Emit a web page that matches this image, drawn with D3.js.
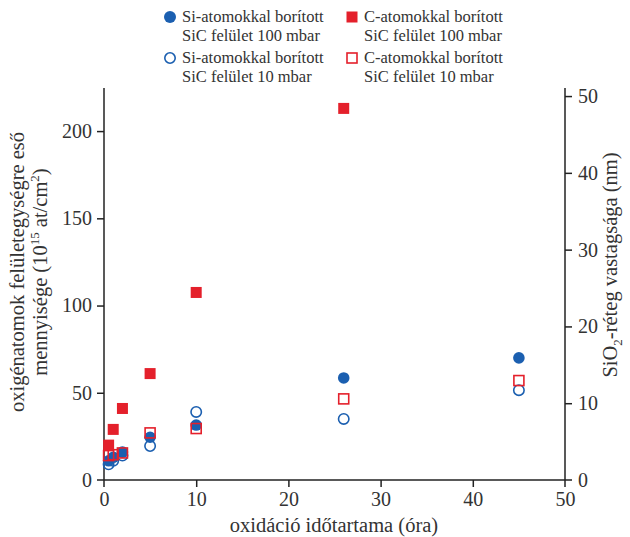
<!DOCTYPE html>
<html><head><meta charset="utf-8">
<script src="https://cdn.jsdelivr.net/npm/d3@7"></script>
<style>body{margin:0;background:#fff}svg{display:block}text{font-family:"Liberation Serif","DejaVu Serif",serif;fill:#333}</style>
</head><body><svg id="c" width="630" height="537"></svg>
<script>
const hours = [0.5, 1, 2, 5, 10, 26, 45];
const siFilled = [11, 13, 16, 24.5, 31.5, 58.5, 70];
const siOpen = [9, 11, 14, 19.5, 39, 35, 51.5];
const cFilled = [20, 29, 41, 61, 107.5, 213, null];
const cOpen = [14, 14.5, 15.5, 27, 29.5, 46.5, 57];
const xTicks = [0, 10, 20, 30, 40, 50];
const yTicks = [0, 50, 100, 150, 200];
const rTicks = [0, 10, 20, 30, 40, 50];
const legendLabels = [
  ["Si-atomokkal borított", "SiC felület 100 mbar"],
  ["C-atomokkal borított", "SiC felület 100 mbar"],
  ["Si-atomokkal borított", "SiC felület 10 mbar"],
  ["C-atomokkal borított", "SiC felület 10 mbar"]
];
const BLUE = "#1b5fb0", RED = "#e4202b", AX = "#222";
const FS = 20;

const svg = d3.select("#c");
const x = d3.scaleLinear().domain([0, 50]).range([104, 565]);
const y = d3.scaleLinear().domain([0, 224.7]).range([480, 88]);
const yr = d3.scaleLinear().domain([0, 51.05]).range([480, 88]);

function styleAxis(g){
  g.selectAll("path.domain").remove();
  g.selectAll("line").attr("stroke", AX).attr("stroke-width", 1.5);
  g.selectAll("text").attr("font-size", FS).attr("fill", "#333").style("font-family", '"Liberation Serif",serif');
}
svg.append("line").attr("x1", 97).attr("x2", 572).attr("y1", 480).attr("y2", 480).attr("stroke", AX).attr("stroke-width", 1.5);
svg.append("line").attr("x1", 104).attr("x2", 104).attr("y1", 88).attr("y2", 487).attr("stroke", AX).attr("stroke-width", 1.5);
svg.append("line").attr("x1", 565).attr("x2", 565).attr("y1", 88).attr("y2", 487).attr("stroke", AX).attr("stroke-width", 1.5);

svg.append("g").attr("transform", "translate(0,480)")
  .call(d3.axisBottom(x).tickValues(xTicks.slice(1, -1)).tickSize(7).tickPadding(5)).call(styleAxis);
svg.append("g").attr("transform", "translate(0,480)")
  .call(d3.axisBottom(x).tickValues([0, 50]).tickSize(0).tickPadding(12)).call(styleAxis);
svg.append("g").attr("transform", "translate(104,0)")
  .call(d3.axisLeft(y).tickValues(yTicks.slice(1)).tickSize(7).tickPadding(5)).call(styleAxis);
svg.append("g").attr("transform", "translate(104,0)")
  .call(d3.axisLeft(y).tickValues([0]).tickSize(0).tickPadding(12)).call(styleAxis);
svg.append("g").attr("transform", "translate(565,0)")
  .call(d3.axisRight(yr).tickValues(rTicks.slice(1)).tickSize(7).tickPadding(6)).call(styleAxis);
svg.append("g").attr("transform", "translate(565,0)")
  .call(d3.axisRight(yr).tickValues([0]).tickSize(0).tickPadding(13)).call(styleAxis);

svg.append("text").attr("x", 334).attr("y", 532).attr("text-anchor", "middle").attr("font-size", FS + 0.5)
  .text("oxidáció időtartama (óra)");
const lt = svg.append("g").attr("transform", "translate(24,272) rotate(-90)");
lt.append("text").attr("x", 0).attr("y", 0).attr("text-anchor", "middle").attr("font-size", FS + 0.5)
  .text("oxigénatomok felületegységre eső");
const l2 = lt.append("text").attr("x", 0).attr("y", 23).attr("text-anchor", "middle").attr("font-size", FS + 0.5);
l2.append("tspan").text("mennyisége (10");
l2.append("tspan").attr("font-size", 13).attr("baseline-shift", "8").text("15");
l2.append("tspan").text(" at/cm");
l2.append("tspan").attr("font-size", 13).attr("baseline-shift", "8").text("2");
l2.append("tspan").text(")");
const rt = svg.append("text").attr("transform", "translate(617,265) rotate(-90)").attr("text-anchor", "middle").attr("font-size", FS + 0.5);
rt.append("tspan").text("SiO");
rt.append("tspan").attr("font-size", 13).attr("baseline-shift", "-5").text("2");
rt.append("tspan").text("-réteg vastagsága (nm)");

const pts = (vals) => hours.map((h, i) => ({h, v: vals[i]})).filter(d => d.v != null);
const plot = svg.append("g");
function circles(vals, filled){
  plot.selectAll(null).data(pts(vals)).enter().append("circle")
    .attr("cx", d => x(d.h)).attr("cy", d => y(d.v)).attr("r", filled ? 5.8 : 5.2)
    .attr("fill", filled ? BLUE : "none")
    .attr("stroke", filled ? "none" : BLUE).attr("stroke-width", 1.6);
}
function squares(vals, filled){
  const s = filled ? 11 : 10;
  plot.selectAll(null).data(pts(vals)).enter().append("rect")
    .attr("x", d => x(d.h) - s / 2).attr("y", d => y(d.v) - s / 2).attr("width", s).attr("height", s)
    .attr("fill", filled ? RED : "none").attr("stroke", filled ? "none" : RED).attr("stroke-width", 1.6);
}
circles(siOpen, false);
circles(siFilled, true);
squares(cOpen, false);
squares(cFilled, true);

const leg = [
  {x: 170, y: 17, type: "c", filled: true},
  {x: 352, y: 17, type: "s", filled: true},
  {x: 170, y: 58, type: "c", filled: false},
  {x: 352, y: 58, type: "s", filled: false}
];
leg.forEach((L, i) => {
  if (L.type === "c") {
    svg.append("circle").attr("cx", L.x).attr("cy", L.y).attr("r", L.filled ? 6 : 5.2)
      .attr("fill", L.filled ? BLUE : "none").attr("stroke", L.filled ? "none" : BLUE).attr("stroke-width", 1.6);
  } else {
    const s = L.filled ? 11 : 10;
    svg.append("rect").attr("x", L.x - s / 2).attr("y", L.y - s / 2).attr("width", s).attr("height", s)
      .attr("fill", L.filled ? RED : "none").attr("stroke", L.filled ? "none" : RED).attr("stroke-width", 1.6);
  }
  legendLabels[i].forEach((t, k) => {
    svg.append("text").attr("x", L.x + 12).attr("y", L.y + 5 + k * 19).attr("font-size", 16.5).text(t);
  });
});
</script></body></html>
